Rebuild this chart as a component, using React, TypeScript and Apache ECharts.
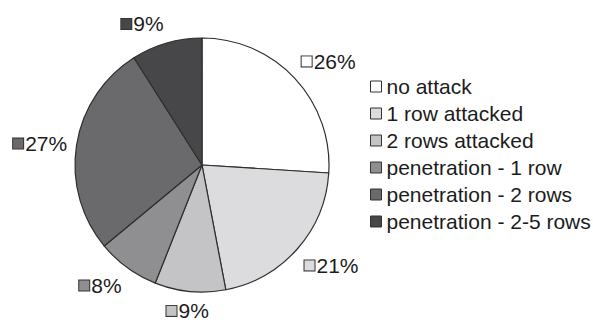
import React, { useEffect, useRef } from "react";
import * as echarts from "echarts";

const categories = [
  "no attack",
  "1 row attacked",
  "2 rows attacked",
  "penetration - 1 row",
  "penetration - 2 rows",
  "penetration - 2-5 rows",
];
const shares = [26, 21, 9, 8, 27, 9];
const sliceColors = ["#ffffff", "#dcdcde", "#c4c4c6", "#8f8f91", "#6a6a6c", "#47474a"];

const FONT = "Liberation Sans, Arial, sans-serif";
const TEXT = "#1c1c1c";

const clamp01 = (v: number) => Math.max(0, Math.min(1, v));

export default function App() {
  const ref = useRef<HTMLDivElement>(null);

  useEffect(() => {
    if (!ref.current) return;
    const chart = echarts.init(ref.current, null, { renderer: "svg" });

    const sliceData = categories.map((name, i) => ({
      name,
      value: shares[i],
      itemStyle: { color: sliceColors[i] },
      label: {
        rich: {
          sq: {
            width: 10,
            height: 10,
            backgroundColor: sliceColors[i],
            borderColor: "#333",
            borderWidth: 1,
          },
          t: { fontSize: 21, fontFamily: FONT, color: TEXT, padding: [0, 0, 0, 2] },
        },
      },
    }));

    chart.setOption({
      animation: false,
      legend: {
        orient: "vertical",
        left: 365,
        top: 71,
        itemWidth: 11,
        itemHeight: 11,
        itemGap: 6,
        icon: "rect",
        data: categories,
        selectedMode: false,
        textStyle: { fontSize: 21, fontFamily: FONT, color: TEXT, lineHeight: 21 },
        itemStyle: { borderColor: "#333", borderWidth: 1 },
      },
      series: [
        {
          type: "pie",
          center: [202, 165],
          radius: 127,
          startAngle: 90,
          clockwise: true,
          silent: true,
          avoidLabelOverlap: false,
          itemStyle: { borderColor: "#2e2e2e", borderWidth: 1.2 },
          label: {
            show: true,
            position: "outside",
            formatter: (p: any) => `{sq| }{t|${p.value}%}`,
          },
          // invisible guide: only used to find the anchor just outside each slice's mid-angle
          labelLine: { show: true, length: 9, length2: 0, lineStyle: { width: 0, opacity: 0 } },
          // place each label box outside the rim, sliding it around the anchor by direction
          labelLayout: (params: any) => {
            const pts = params.labelLinePoints;
            if (!pts) return {};
            const [p1, p2] = pts;
            let dx = p2[0] - p1[0];
            let dy = p2[1] - p1[1];
            const len = Math.hypot(dx, dy) || 1;
            dx /= len;
            dy /= len;
            const w = params.labelRect.width;
            const h = params.labelRect.height;
            const sx = Math.sign(dx) * clamp01((Math.abs(dx) - 0.08) / 0.2);
            const sy = Math.sign(dy) * clamp01((Math.abs(dy) - 0.15) / 0.45);
            return {
              x: p2[0] + (sx * w) / 2,
              y: p2[1] + (sy * h) / 2,
              align: "center",
              verticalAlign: "middle",
            };
          },
          data: sliceData,
        },
      ],
    });

    return () => chart.dispose();
  }, []);

  return (
    <div
      ref={ref}
      style={{ position: "fixed", left: 0, top: 0, width: 593, height: 323, background: "#fff" }}
    />
  );
}
